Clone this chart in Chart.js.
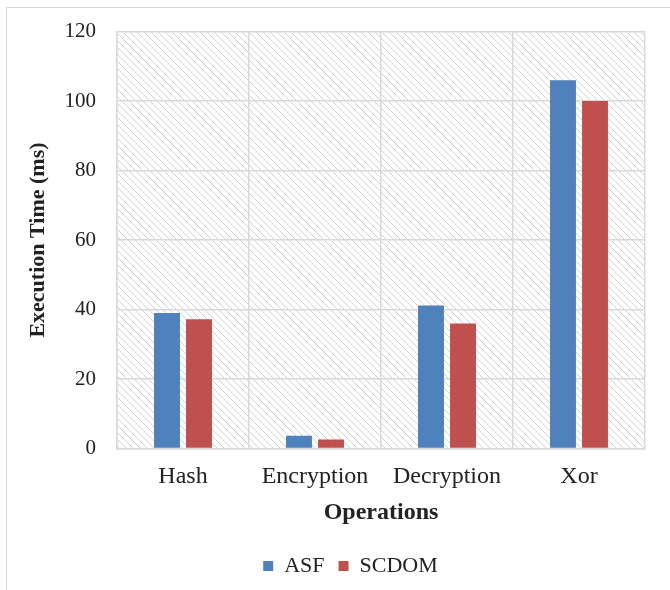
<!DOCTYPE html>
<html>
<head>
<meta charset="utf-8">
<script src="https://cdn.jsdelivr.net/npm/chart.js@4"></script>
<style>
  body { margin: 0; background: #fff; }
  #wrap { position: relative; width: 670px; height: 590px; overflow: hidden; }
  #frame { position: absolute; left: 6px; top: 7px; width: 700px; height: 620px;
           border-left: 1.5px solid #d9d9d9; border-top: 1.5px solid #d9d9d9; }
  canvas { position: absolute; left: 0; top: 0; }
</style>
</head>
<body>
<div id="wrap">
  <div id="frame"></div>
  <canvas id="chart" width="670" height="590"></canvas>
</div>
<script>
var operations = ["Hash", "Encryption", "Decryption", "Xor"];
var asfTimes = [39, 3.7, 41.2, 106];
var scdomTimes = [37.2, 2.6, 36, 100];
var yTicks = [0, 20, 40, 60, 80, 100, 120];

// diagonal hatch behind the bars
function makeHatch() {
    var s = 7;
    var c = document.createElement("canvas");
    c.width = s; c.height = s;
    var g = c.getContext("2d");
    g.fillStyle = "#ffffff";
    g.fillRect(0, 0, s, s);
    g.strokeStyle = "#d2d2d2";
    g.lineWidth = 1;
    g.beginPath();
    g.moveTo(-1, -1); g.lineTo(s + 1, s + 1);
    g.moveTo(-1, s - 1); g.lineTo(1, s + 1);
    g.moveTo(s - 1, -1); g.lineTo(s + 1, 1);
    g.stroke();
    return g.createPattern(c, "repeat");
}

var hatchPlugin = {
    id: "hatch",
    beforeDraw: function(chart) {
        var a = chart.chartArea;
        var ctx = chart.ctx;
        ctx.save();
        ctx.fillStyle = makeHatch();
        ctx.fillRect(a.left, a.top, a.right - a.left, a.bottom - a.top);
        ctx.restore();
    }
};

// legend sits a bit right of the canvas centre in the original
var legendShift = {
    id: "legendShift",
    afterLayout: function(chart) {
        chart.legend.left += 28;
        chart.legend.right += 28;
    }
};

var serif = "'Liberation Serif', 'Times New Roman', serif";

new Chart(document.getElementById("chart").getContext("2d"), {
    type: "bar",
    data: {
        labels: operations,
        datasets: [
            { label: "ASF", data: asfTimes, backgroundColor: "#4f81bd" },
            { label: "SCDOM", data: scdomTimes, backgroundColor: "#c0504d" }
        ]
    },
    options: {
        responsive: false,
        animation: false,
        devicePixelRatio: 1,
        categoryPercentage: 0.485,
        barPercentage: 0.81,
        layout: { padding: { left: 0, right: 25, top: 14, bottom: 3 } },
        plugins: {
            tooltip: { enabled: false },
            legend: {
                position: "bottom",
                labels: {
                    boxWidth: 10, boxHeight: 10, padding: 14,
                    color: "#222", font: { family: serif, size: 22 }
                }
            }
        },
        scales: {
            x: {
                afterFit: function(scale) { scale.height = 92.4; },
                grid: { color: "#d9d9d9", lineWidth: 1.5, drawTicks: false },
                border: { color: "#d9d9d9", width: 1.5 },
                ticks: { color: "#222", padding: 17.2, font: { family: serif, size: 24, lineHeight: 0.9 } },
                title: { display: true, text: "Operations", color: "#222",
                         font: { family: serif, size: 24, weight: "bold", lineHeight: 1 },
                         padding: { top: 0, bottom: 16.4 } }
            },
            y: {
                min: 0, max: 120,
                afterBuildTicks: function(scale) {
                    scale.ticks = yTicks.map(function(v) { return { value: v }; });
                },
                afterFit: function(scale) { scale.width = 117; },
                grid: { color: "#d9d9d9", lineWidth: 1.5, drawTicks: false },
                border: { color: "#d9d9d9", width: 1.5 },
                ticks: { color: "#222", padding: 21, font: { family: serif, size: 21, lineHeight: 1 } },
                title: { display: true, text: "Execution Time (ms)", color: "#222",
                         font: { family: serif, size: 22, weight: "bold" }, padding: { top: 25, bottom: 0 } }
            }
        }
    },
    plugins: [hatchPlugin, legendShift]
});
</script>
</body>
</html>
